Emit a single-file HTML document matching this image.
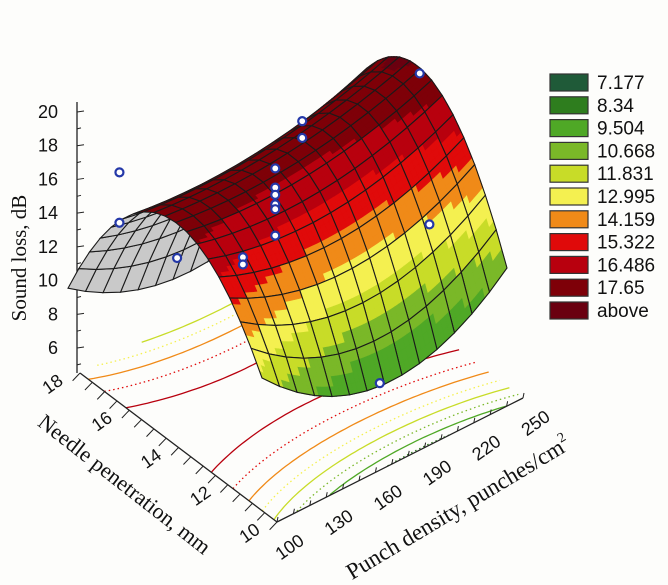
<!DOCTYPE html>
<html><head><meta charset="utf-8"><style>
html,body{margin:0;padding:0;background:#fdfdfb;}
svg{display:block;}
text{font-family:"Liberation Serif",serif;fill:#111;}
.lg{font-family:"Liberation Sans",sans-serif;font-size:19px;}
.tk{font-family:"Liberation Sans",sans-serif;}
</style></head><body>
<svg id="chart" width="668" height="585" viewBox="0 0 668 585" xmlns="http://www.w3.org/2000/svg">
<rect width="668" height="585" fill="#fdfdfb"/>
<g id="floor"></g>
<g id="axes"></g>
<g id="surf"></g>
<g id="pts"></g>
<g id="legend"></g>
<text x="0" y="0" font-size="21" text-anchor="middle" transform="translate(26,258) rotate(-90)">Sound loss, dB</text>
<text x="0" y="0" font-size="22" text-anchor="middle" transform="translate(120,490) rotate(38)">Needle penetration, mm</text>
<text x="0" y="0" font-size="23" text-anchor="middle" transform="translate(462,514) rotate(-31)">Punch density, punches/cm<tspan dy="-10" font-size="14">2</tspan></text>
</svg>
<script>
// ---- data ----
const zFrontCoef = [11.5, -11.7, 10.2];
const riseCoef = [5.9, 9.7, -7.8];
const ridgePos = [0.55];
const legendLevels = [7.177, 8.34, 9.504, 10.668, 11.831, 12.995, 14.159, 15.322, 16.486, 17.65];
const legendLabels = ["7.177","8.34","9.504","10.668","11.831","12.995","14.159","15.322","16.486","17.65","above"];
const legendColors = ["#1f5a38","#2e7d1e","#4fa826","#7ab828","#c8dc28","#f4f050","#f08a18","#e00a0a","#b8000e","#7e0008","#6a0010"];
const zTicks = [6, 8, 10, 12, 14, 16, 18, 20];
const needleTicks = [10, 12, 14, 16, 18];
const punchTicks = [100, 130, 160, 190, 220, 250];
const ptPunch  = [131.5, 131.5, 166.8, 147.7, 147.7, 167.5, 167.5, 167.5, 167.5, 167.5, 167.5, 184, 184, 250, 250, 184];
const ptNeedle = [18, 18, 18, 14, 14, 14, 14, 14, 14, 14, 14, 14, 14, 13.6, 13.2, 10.8];
const ptLoss   = [17.0, 14.9, 12.0, 13.7, 13.4, 16.6, 15.8, 15.5, 15.1, 14.9, 13.8, 17.9, 17.2, 17.3, 11.1, 7.7];

// ---- scales ----
const NS = "http://www.w3.org/2000/svg";
function uOf(p){return (p-100)/150;}
function vOf(n){return (n-10)/8;}
function proj(u,v,z){return [262+245*u-194*v, 654-146*u-43*v-24*z];}
function floorP(u,v){return [277+246*u-197*v, 522-124*u-149*v];}
function zAxisY(z){return 112+(20-z)*16.86;}
function surfZ(u,v){
  const a=zFrontCoef[0]+zFrontCoef[1]*u+zFrontCoef[2]*u*u;
  const r=riseCoef[0]+riseCoef[1]*u+riseCoef[2]*u*u;
  const w=(v-ridgePos[0])/ridgePos[0];
  return a+r*(1-w*w);
}
function colorOf(z){for(let i=0;i<legendLevels.length;i++){if(z<=legendLevels[i])return legendColors[i];}return legendColors[10];}
function mk(tag,attrs,parent){const e=document.createElementNS(NS,tag);for(const k in attrs)e.setAttribute(k,attrs[k]);parent.appendChild(e);return e;}

// ---- axes ----
const ax=document.getElementById('axes');
let e=mk('line',{x1:77,y1:102,x2:77,y2:373,stroke:'#222','stroke-width':1.3},ax);


for(let z=5;z<=20;z+=1){mk('line',{x1:77,y1:zAxisY(z),x2:z%2===0?84:81,y2:zAxisY(z)-1,stroke:'#222'},ax);}
zTicks.forEach(z=>{
  const t=mk('text',{x:58,y:zAxisY(z)+6,'font-size':18,'text-anchor':'end',class:'tk'},ax);
  t.textContent=z;
  
  
});
e=mk('line',{x1:80,y1:373,x2:277,y2:522,stroke:'#222','stroke-width':1.3},ax);


e=mk('line',{x1:277,y1:522,x2:523,y2:398,stroke:'#222','stroke-width':1.3},ax);


for(let n=10;n<=18;n+=0.5){const p=floorP(-0.03,vOf(n));const q=floorP(0,vOf(n));mk('line',{x1:p[0],y1:p[1]+4,x2:q[0],y2:q[1],stroke:'#222'},ax);}
needleTicks.forEach(n=>{
  const p=floorP(0,vOf(n));
  const t=mk('text',{x:0,y:0,'font-size':18,'text-anchor':'middle',class:'tk',transform:`translate(${p[0]-24},${p[1]+16}) rotate(-35)`},ax);
  t.textContent=n;
  
  
});
for(let pd=100;pd<=250;pd+=10){const p=floorP(uOf(pd),0);mk('line',{x1:p[0],y1:p[1],x2:p[0]+1,y2:p[1]-5,stroke:'#222'},ax);}
punchTicks.forEach(pd=>{
  const p=floorP(uOf(pd),0);
  const t=mk('text',{x:0,y:0,'font-size':18,'text-anchor':'middle',class:'tk',transform:`translate(${p[0]+16},${p[1]+30}) rotate(-35)`},ax);
  t.textContent=pd;
  
  
});

// ---- floor contours ----
const fl=document.getElementById('floor');
legendLevels.forEach((L,li)=>{
  [-1,1].forEach(sg=>{
    let d='',pen=false;
    for(let k=0;k<=60;k++){
      const u=k/60;
      const a=zFrontCoef[0]+zFrontCoef[1]*u+zFrontCoef[2]*u*u;
      const r=riseCoef[0]+riseCoef[1]*u+riseCoef[2]*u*u;
      const s=1-(L-a)/r;
      let ok=s>=0;let v=0;
      if(ok){v=ridgePos[0]*(1+sg*Math.sqrt(s));ok=v>=0&&v<=1;}
      if(ok){const p=floorP(u,v);d+=(pen?'L':'M')+p[0].toFixed(1)+','+p[1].toFixed(1);pen=true;}else pen=false;
    }
    if(d){
      const c=mk('path',{d:d,fill:'none',stroke:legendColors[li],'stroke-width':1.3,'stroke-dasharray':li%2?'1.5 3':'none'},fl);
      
      
    }
  });
});

// ---- surface ----
const sf=document.getElementById('surf');
const NU=14,NV=18,SUB=4;
function P(u,v){return proj(u,v,surfZ(u,v));}
function area(a,b,c,d){const pts=[a,b,c,d];let s=0;for(let i=0;i<4;i++){const p=pts[i],q=pts[(i+1)%4];s+=p[0]*q[1]-q[0]*p[1];}return s;}
const refSign=Math.sign(area(P(0.5,0.1),P(0.55,0.1),P(0.55,0.15),P(0.5,0.15)));
const cells=[];
for(let i=0;i<NU;i++)for(let j=0;j<NV;j++){
  const u0=i/NU,u1=(i+1)/NU,v0=j/NV,v1=(j+1)/NV;
  const depth=654-146*(u0+u1)/2-43*(v0+v1)/2;
  cells.push({u0,u1,v0,v1,depth});
}
cells.sort((a,b)=>a.depth-b.depth);
cells.forEach(c=>{
  const g=mk('g',{},sf);
  
  
  const corners=[P(c.u0,c.v0),P(c.u1,c.v0),P(c.u1,c.v1),P(c.u0,c.v1)];
  const front=Math.sign(area(...corners))===refSign;
  const pt=(p)=>p[0].toFixed(1)+','+p[1].toFixed(1);
  if(front){
    for(let a=0;a<SUB;a++)for(let b=0;b<SUB;b++){
      const ua=c.u0+(c.u1-c.u0)*a/SUB,ub=c.u0+(c.u1-c.u0)*(a+1)/SUB;
      const va=c.v0+(c.v1-c.v0)*b/SUB,vb=c.v0+(c.v1-c.v0)*(b+1)/SUB;
      const col=colorOf(surfZ((ua+ub)/2,(va+vb)/2));
      mk('polygon',{points:[P(ua,va),P(ub,va),P(ub,vb),P(ua,vb)].map(pt).join(' '),fill:col,stroke:col,'stroke-width':0.6},g);
    }
  } else {
    mk('polygon',{points:corners.map(pt).join(' '),fill:'#c9c9c9',stroke:'#c9c9c9','stroke-width':0.5},g);
  }
  mk('polygon',{points:corners.map(pt).join(' '),fill:'none',stroke:'#1a1a1a','stroke-width':1.1},g);
});

// ---- data points ----
const pg=document.getElementById('pts');
ptPunch.forEach((pd,i)=>{
  const p=proj(uOf(pd),vOf(ptNeedle[i]),ptLoss[i]);
  const c=mk('circle',{cx:p[0],cy:p[1],r:4,fill:'#fff',stroke:'#2438a8','stroke-width':2.2},pg);
  
  
});

// ---- legend ----
const lg=document.getElementById('legend');
legendLabels.forEach((lab,i)=>{
  const y=74+i*22.8;
  const r=mk('rect',{x:550,y:y,width:38,height:17,fill:legendColors[i],stroke:'#333','stroke-width':1.2},lg);
  
  
  const t=mk('text',{x:597,y:y+15,class:'lg'},lg);
  t.textContent=lab;
  
  
});
</script>
</body></html>
